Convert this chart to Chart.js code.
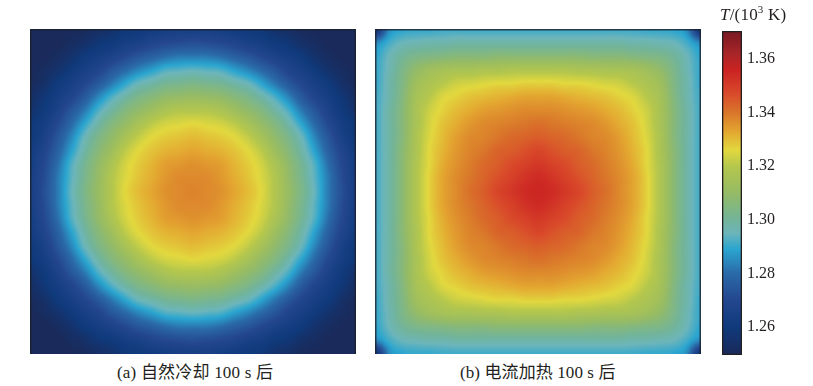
<!DOCTYPE html>
<html>
<head>
<meta charset="utf-8">
<script src="https://cdn.jsdelivr.net/npm/chart.js@4"></script>
<style>
html,body{margin:0;padding:0;background:#fff;width:813px;height:386px;overflow:hidden}
canvas{position:absolute}
.txt{position:absolute;white-space:nowrap;color:#231f20;font-family:"Liberation Serif","Noto Sans CJK SC",serif;font-size:17px;line-height:20px}
sup{font-size:11px;line-height:0}
</style>
</head>
<body>
<canvas id="panelA" style="left:30px;top:29px"></canvas>
<canvas id="panelB" style="left:375px;top:29px"></canvas>
<canvas id="bar" style="left:722px;top:21px"></canvas>
<div class="txt" style="left:720px;top:5px;letter-spacing:.2px"><i>T</i>/(10<sup>3</sup> K)</div>
<div class="txt" style="left:117px;top:363px;letter-spacing:.2px">(a) 自然冷却 100 s 后</div>
<div class="txt" style="left:460px;top:363px;letter-spacing:.1px">(b) 电流加热 100 s 后</div>
<script>
// temperature in K on a 25x25 grid, top row first, outer rows sit on the panel edge
const coolingT=[
[1250,1250,1250,1250,1251,1253,1255,1259,1260,1262,1263,1264,1264,1264,1263,1262,1260,1259,1255,1253,1251,1250,1250,1250,1250],
[1250,1250,1250,1252,1254,1258,1260,1263,1265,1268,1270,1271,1272,1271,1270,1268,1265,1263,1260,1258,1254,1252,1250,1250,1250],
[1250,1250,1252,1255,1260,1263,1266,1270,1274,1277,1280,1282,1282,1282,1280,1277,1274,1270,1266,1263,1260,1255,1252,1250,1250],
[1250,1252,1255,1260,1264,1268,1274,1279,1284,1288,1292,1293,1294,1293,1292,1288,1284,1279,1274,1268,1264,1260,1255,1252,1250],
[1251,1254,1260,1264,1269,1275,1282,1289,1295,1298,1301,1302,1303,1302,1301,1298,1295,1289,1282,1275,1269,1264,1260,1254,1251],
[1253,1258,1263,1268,1275,1284,1292,1298,1303,1306,1309,1310,1311,1310,1309,1306,1303,1298,1292,1284,1275,1268,1263,1258,1253],
[1255,1260,1266,1274,1282,1292,1299,1305,1309,1313,1317,1319,1319,1319,1317,1313,1309,1305,1299,1292,1282,1274,1266,1260,1255],
[1259,1263,1270,1279,1289,1298,1305,1310,1316,1321,1324,1325,1326,1325,1324,1321,1316,1310,1305,1298,1289,1279,1270,1263,1259],
[1260,1265,1274,1284,1295,1303,1309,1316,1322,1326,1328,1329,1330,1329,1328,1326,1322,1316,1309,1303,1295,1284,1274,1265,1260],
[1262,1268,1277,1288,1298,1306,1313,1321,1326,1329,1331,1332,1333,1332,1331,1329,1326,1321,1313,1306,1298,1288,1277,1268,1262],
[1263,1270,1280,1292,1301,1309,1317,1324,1328,1331,1334,1335,1336,1335,1334,1331,1328,1324,1317,1309,1301,1292,1280,1270,1263],
[1264,1271,1282,1293,1302,1310,1319,1325,1329,1332,1335,1337,1337,1337,1335,1332,1329,1325,1319,1310,1302,1293,1282,1271,1264],
[1264,1272,1282,1294,1303,1311,1319,1326,1330,1333,1336,1337,1338,1337,1336,1333,1330,1326,1319,1311,1303,1294,1282,1272,1264],
[1264,1271,1282,1293,1302,1310,1319,1325,1329,1332,1335,1337,1337,1337,1335,1332,1329,1325,1319,1310,1302,1293,1282,1271,1264],
[1263,1270,1280,1292,1301,1309,1317,1324,1328,1331,1334,1335,1336,1335,1334,1331,1328,1324,1317,1309,1301,1292,1280,1270,1263],
[1262,1268,1277,1288,1298,1306,1313,1321,1326,1329,1331,1332,1333,1332,1331,1329,1326,1321,1313,1306,1298,1288,1277,1268,1262],
[1260,1265,1274,1284,1295,1303,1309,1316,1322,1326,1328,1329,1330,1329,1328,1326,1322,1316,1309,1303,1295,1284,1274,1265,1260],
[1259,1263,1270,1279,1289,1298,1305,1310,1316,1321,1324,1325,1326,1325,1324,1321,1316,1310,1305,1298,1289,1279,1270,1263,1259],
[1255,1260,1266,1274,1282,1292,1299,1305,1309,1313,1317,1319,1319,1319,1317,1313,1309,1305,1299,1292,1282,1274,1266,1260,1255],
[1253,1258,1263,1268,1275,1284,1292,1298,1303,1306,1309,1310,1311,1310,1309,1306,1303,1298,1292,1284,1275,1268,1263,1258,1253],
[1251,1254,1260,1264,1269,1275,1282,1289,1295,1298,1301,1302,1303,1302,1301,1298,1295,1289,1282,1275,1269,1264,1260,1254,1251],
[1250,1252,1255,1260,1264,1268,1274,1279,1284,1288,1292,1293,1294,1293,1292,1288,1284,1279,1274,1268,1264,1260,1255,1252,1250],
[1250,1250,1252,1255,1260,1263,1266,1270,1274,1277,1280,1282,1282,1282,1280,1277,1274,1270,1266,1263,1260,1255,1252,1250,1250],
[1250,1250,1250,1252,1254,1258,1260,1263,1265,1268,1270,1271,1272,1271,1270,1268,1265,1263,1260,1258,1254,1252,1250,1250,1250],
[1250,1250,1250,1250,1251,1253,1255,1259,1260,1262,1263,1264,1264,1264,1263,1262,1260,1259,1255,1253,1251,1250,1250,1250,1250]
]
const heatingT=[
[1256,1284,1289,1290,1290,1291,1291,1291,1291,1291,1291,1291,1291,1291,1291,1291,1291,1291,1291,1291,1290,1290,1289,1284,1256],
[1284,1291,1295,1296,1297,1297,1298,1298,1298,1298,1298,1298,1298,1298,1298,1298,1298,1298,1298,1297,1297,1296,1295,1291,1284],
[1289,1295,1300,1303,1304,1305,1306,1306,1306,1307,1307,1307,1307,1307,1307,1307,1306,1306,1306,1305,1304,1303,1300,1295,1289],
[1290,1296,1303,1309,1313,1315,1316,1316,1317,1317,1318,1318,1318,1318,1318,1317,1317,1316,1316,1315,1313,1309,1303,1296,1290],
[1290,1297,1304,1313,1317,1320,1323,1324,1325,1326,1326,1327,1327,1327,1326,1326,1325,1324,1323,1320,1317,1313,1304,1297,1290],
[1291,1297,1305,1315,1320,1325,1327,1329,1330,1331,1332,1333,1333,1333,1332,1331,1330,1329,1327,1325,1320,1315,1305,1297,1291],
[1291,1298,1306,1316,1323,1327,1330,1332,1334,1335,1336,1337,1337,1337,1336,1335,1334,1332,1330,1327,1323,1316,1306,1298,1291],
[1291,1298,1306,1316,1324,1329,1332,1335,1337,1338,1339,1340,1341,1340,1339,1338,1337,1335,1332,1329,1324,1316,1306,1298,1291],
[1291,1298,1306,1317,1325,1330,1334,1337,1338,1340,1342,1343,1344,1343,1342,1340,1338,1337,1334,1330,1325,1317,1306,1298,1291],
[1291,1298,1307,1317,1326,1331,1335,1338,1340,1343,1344,1346,1348,1346,1344,1343,1340,1338,1335,1331,1326,1317,1307,1298,1291],
[1291,1298,1307,1318,1326,1332,1336,1339,1342,1344,1347,1349,1351,1349,1347,1344,1342,1339,1336,1332,1326,1318,1307,1298,1291],
[1291,1298,1307,1318,1327,1333,1337,1340,1343,1346,1349,1352,1354,1352,1349,1346,1343,1340,1337,1333,1327,1318,1307,1298,1291],
[1291,1298,1307,1318,1327,1333,1337,1341,1344,1348,1351,1354,1355,1354,1351,1348,1344,1341,1337,1333,1327,1318,1307,1298,1291],
[1291,1298,1307,1318,1327,1333,1337,1340,1343,1346,1349,1352,1354,1352,1349,1346,1343,1340,1337,1333,1327,1318,1307,1298,1291],
[1291,1298,1307,1318,1326,1332,1336,1339,1342,1344,1347,1349,1351,1349,1347,1344,1342,1339,1336,1332,1326,1318,1307,1298,1291],
[1291,1298,1307,1317,1326,1331,1335,1338,1340,1343,1344,1346,1348,1346,1344,1343,1340,1338,1335,1331,1326,1317,1307,1298,1291],
[1291,1298,1306,1317,1325,1330,1334,1337,1338,1340,1342,1343,1344,1343,1342,1340,1338,1337,1334,1330,1325,1317,1306,1298,1291],
[1291,1298,1306,1316,1324,1329,1332,1335,1337,1338,1339,1340,1341,1340,1339,1338,1337,1335,1332,1329,1324,1316,1306,1298,1291],
[1291,1298,1306,1316,1323,1327,1330,1332,1334,1335,1336,1337,1337,1337,1336,1335,1334,1332,1330,1327,1323,1316,1306,1298,1291],
[1291,1297,1305,1315,1320,1325,1327,1329,1330,1331,1332,1333,1333,1333,1332,1331,1330,1329,1327,1325,1320,1315,1305,1297,1291],
[1290,1297,1304,1313,1317,1320,1323,1324,1325,1326,1326,1327,1327,1327,1326,1326,1325,1324,1323,1320,1317,1313,1304,1297,1290],
[1290,1296,1303,1309,1313,1315,1316,1316,1317,1317,1318,1318,1318,1318,1318,1317,1317,1316,1316,1315,1313,1309,1303,1296,1290],
[1289,1295,1300,1303,1304,1305,1306,1306,1306,1307,1307,1307,1307,1307,1307,1307,1306,1306,1306,1305,1304,1303,1300,1295,1289],
[1284,1291,1295,1296,1297,1297,1298,1298,1298,1298,1298,1298,1298,1298,1298,1298,1298,1298,1298,1297,1297,1296,1295,1291,1284],
[1256,1284,1289,1290,1290,1291,1291,1291,1291,1291,1291,1291,1291,1291,1291,1291,1291,1291,1291,1291,1290,1290,1289,1284,1256]
]
const barTicks=[1260,1280,1300,1320,1340,1360]
const barRange=[1249.5,1370.5]
// colour bar, value and colour side by side
const stopT=[1250,1260,1270,1280,1289,1295,1300,1310,1320,1326,1333,1340,1347,1356,1362,1370]
const stopC=["#1a2a5a","#0f3a7c","#24478f","#2a6aa8","#2aa5d0","#6cb5ba","#72b49a","#95bb65","#b5c74c","#e2d83e","#e3a530","#d9762a","#d94a2a","#cb2222","#a82528","#7a1a22"]

function hexToRgb(h){
    return [parseInt(h.slice(1,3),16),parseInt(h.slice(3,5),16),parseInt(h.slice(5,7),16)]
}
const stopRgb=stopC.map(hexToRgb)
function tempRgb(t){
    if(t<=stopT[0])return stopRgb[0]
    for(let i=1;i<stopT.length;i++){
        if(t<=stopT[i]){
            let k=(t-stopT[i-1])/(stopT[i]-stopT[i-1])
            return stopRgb[i-1].map((c,n)=>c+(stopRgb[i][n]-c)*k)
        }
    }
    return stopRgb[stopRgb.length-1]
}
// thin dark frame round a plot, the two panels have none along the bottom
function makeFrame(bottom,width,color){
    return {
        id:"frame",
        afterDraw(chart){
            const a=chart.chartArea,ctx=chart.ctx
            const l=a.left+width/2,r=a.right-width/2,t=a.top+width/2,b=a.bottom-width/2
            ctx.save()
            ctx.strokeStyle=color
            ctx.lineWidth=width
            ctx.beginPath()
            ctx.moveTo(l,a.bottom)
            ctx.lineTo(l,t)
            ctx.lineTo(r,t)
            ctx.lineTo(r,a.bottom)
            if(bottom){
                ctx.moveTo(a.left,b)
                ctx.lineTo(a.right,b)
            }
            ctx.stroke()
            ctx.restore()
        }
    }
}
function catmull(p0,p1,p2,p3,k){
    return p1+0.5*k*(p2-p0+k*(2*p0-5*p1+4*p2-p3+k*(3*(p1-p2)+p3-p0)))
}
// the cells come out blocky, so repaint the area pixel by pixel, like imshow with interpolation on
function makeSmooth(rows){
    return {
        id:"smooth",
        afterDatasetsDraw(chart){
            const a=chart.chartArea,sx=chart.scales.x,sy=chart.scales.y,n=rows.length
            const w=Math.round(a.width),h=Math.round(a.height)
            const img=chart.ctx.createImageData(w,h)
            const at=(i,j)=>rows[n-1-Math.min(n-1,Math.max(0,j))][Math.min(n-1,Math.max(0,i))]
            for(let py=0;py<h;py++){
                const vy=sy.getValueForPixel(a.top+py+0.5)
                const j=Math.floor(vy),ky=vy-j
                for(let px=0;px<w;px++){
                    const vx=sx.getValueForPixel(a.left+px+0.5)
                    const i=Math.floor(vx),kx=vx-i
                    const col=[]
                    for(let m=-1;m<3;m++){
                        col.push(catmull(at(i-1,j+m),at(i,j+m),at(i+1,j+m),at(i+2,j+m),kx))
                    }
                    const c=tempRgb(catmull(col[0],col[1],col[2],col[3],ky))
                    const o=(py*w+px)*4
                    img.data[o]=c[0]
                    img.data[o+1]=c[1]
                    img.data[o+2]=c[2]
                    img.data[o+3]=255
                }
            }
            chart.ctx.putImageData(img,Math.round(a.left),Math.round(a.top))
        }
    }
}
function drawPanel(id,rows){
    const canvas=document.getElementById(id)
    canvas.width=326
    canvas.height=325
    let points=[],colors=[]
    rows.forEach((row,j)=>{
        row.forEach((t,i)=>{
            points.push({x:i,y:rows.length-1-j})
            const c=tempRgb(t)
            colors.push("rgb("+c.map(Math.round).join(",")+")")
        })
    })
    new Chart(canvas,{
        type:"scatter",
        data:{datasets:[{
            data:points,
            pointStyle:"rect",
            pointRadius:10,
            pointBorderWidth:0,
            pointBackgroundColor:colors
        }]},
        options:{
            responsive:false,
            animation:false,
            layout:{padding:0,autoPadding:false},
            plugins:{legend:{display:false},tooltip:{enabled:false}},
            scales:{
                x:{display:false,min:0,max:rows.length-1},
                y:{display:false,min:0,max:rows.length-1}
            }
        },
        plugins:[makeSmooth(rows),makeFrame(false,1.5,"rgba(28,32,44,0.8)")]
    })
}
drawPanel("panelA",coolingT)
drawPanel("panelB",heatingT)

// colour bar: one floating bar filled with a gradient laid out on its own scale
const barCanvas=document.getElementById("bar")
barCanvas.width=80
barCanvas.height=345
new Chart(barCanvas,{
    type:"bar",
    data:{labels:["T"],datasets:[{
        data:[barRange],
        barPercentage:1,
        categoryPercentage:1,
        borderWidth:0,
        backgroundColor(c){
            const s=c.chart.scales.y,a=c.chart.chartArea
            if(!a)return "#888"
            const g=c.chart.ctx.createLinearGradient(0,s.getPixelForValue(barRange[0]),0,s.getPixelForValue(barRange[1]))
            stopT.forEach((t,i)=>g.addColorStop((t-barRange[0])/(barRange[1]-barRange[0]),stopC[i]))
            return g
        }
    }]},
    options:{
        responsive:false,
        animation:false,
        layout:{padding:{top:10,bottom:11,left:0,right:0},autoPadding:false},
        plugins:{legend:{display:false},tooltip:{enabled:false}},
        scales:{
            x:{display:false},
            y:{
                position:"right",
                min:barRange[0],
                max:barRange[1],
                afterBuildTicks(axis){axis.ticks=barTicks.map(v=>({value:v}))},
                afterFit(axis){
                    axis.width=60
                    axis.paddingTop=0
                    axis.paddingBottom=0
                },
                border:{display:false},
                grid:{drawOnChartArea:false,tickLength:-4,tickColor:"#231f20",tickWidth:1},
                ticks:{
                    padding:9,
                    color:"#231f20",
                    font:{family:"Liberation Serif",size:16},
                    callback:v=>(v/1000).toFixed(2)
                }
            }
        }
    },
    plugins:[makeFrame(true,1.3,"#231f20")]
})
</script>
</body>
</html>
